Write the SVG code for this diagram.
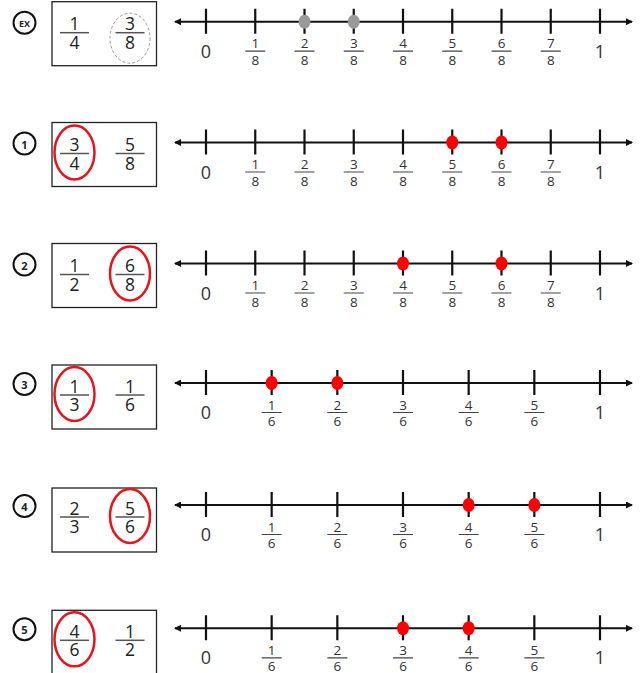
<svg xmlns="http://www.w3.org/2000/svg" width="644" height="673" viewBox="0 0 644 673">
<defs>
<marker id="arr" viewBox="0 0 7 7" refX="6" refY="3.5" markerWidth="7" markerHeight="7" markerUnits="userSpaceOnUse" orient="auto-start-reverse">
<path d="M0,0 L7,3.5 L0,7 z" fill="#111"/>
</marker>
</defs>
<style>
text{font-family:"Open Sans","Liberation Sans",sans-serif;fill:#222;text-anchor:middle}
.badge{fill:none;stroke:#111;stroke-width:2}
.bt{font-weight:bold;font-size:11px;dominant-baseline:central}
.box{fill:#fff;stroke:#222;stroke-width:1.3}
.bf{font-size:17.5px}
.bbar{stroke:#555;stroke-width:1.5}
.ring{fill:none;stroke:#e8141c;stroke-width:2.5}
.dash{fill:none;stroke:#999;stroke-width:1;stroke-dasharray:3 2}
.nl{stroke:#111;stroke-width:2;fill:none}
.tick{stroke:#111;stroke-width:2.2}
.big{font-size:18px;fill:#333}
.sf{font-size:13.5px;fill:#333}
.sbar{stroke:#444;stroke-width:1.2}
.gdot{fill:#999}
.rdot{fill:#f00}
</style>

<!-- EX -->
<g id="row-ex" transform="translate(0,21.7)">
<g id="badge-ex"><circle class="badge" cx="24.5" cy="1" r="11"/><text class="bt" x="24.5" y="1.5" style="font-size:9px">EX</text></g>
<g id="box-ex">
<rect class="box" x="52" y="-20" width="104.5" height="64"/>
<text class="bf" x="74.5" y="8.5">1</text><line class="bbar" x1="60" y1="11" x2="89" y2="11"/><text class="bf" x="74.5" y="27">4</text>
<ellipse class="dash" cx="130" cy="16.5" rx="20" ry="25"/>
<text class="bf" x="130" y="8.5">3</text><line class="bbar" x1="115.5" y1="11" x2="144.5" y2="11"/><text class="bf" x="130" y="27">8</text>
</g>
<g id="line-ex">
<path class="nl" d="M175,0 H632" marker-start="url(#arr)" marker-end="url(#arr)"/>
<path class="tick" d="M206,-13V12M255.25,-13V12M304.5,-13V12M353.75,-13V12M403,-13V12M452.25,-13V12M501.5,-13V12M550.75,-13V12M600,-13V12"/>
<ellipse class="gdot" cx="304.5" cy="0" rx="6" ry="7"/><ellipse class="gdot" cx="353.75" cy="0" rx="6" ry="7"/>
<text class="big" x="206" y="36">0</text><text class="big" x="600" y="36">1</text>
<path class="sbar" d="M245.25,29.5h20M294.5,29.5h20M343.75,29.5h20M393,29.5h20M442.25,29.5h20M491.5,29.5h20M540.75,29.5h20"/>
<text class="sf" x="255.25" y="26.5">1</text><text class="sf" x="255.25" y="43">8</text>
<text class="sf" x="304.5" y="26.5">2</text><text class="sf" x="304.5" y="43">8</text>
<text class="sf" x="353.75" y="26.5">3</text><text class="sf" x="353.75" y="43">8</text>
<text class="sf" x="403" y="26.5">4</text><text class="sf" x="403" y="43">8</text>
<text class="sf" x="452.25" y="26.5">5</text><text class="sf" x="452.25" y="43">8</text>
<text class="sf" x="501.5" y="26.5">6</text><text class="sf" x="501.5" y="43">8</text>
<text class="sf" x="550.75" y="26.5">7</text><text class="sf" x="550.75" y="43">8</text>
</g>
</g>

<!-- 1 -->
<g id="row-1" transform="translate(0,142.5)">
<g id="badge-1"><circle class="badge" cx="24.5" cy="1" r="11"/><text class="bt" x="24.5" y="1.5">1</text></g>
<g id="box-1">
<rect class="box" x="52" y="-20" width="104.5" height="64"/>
<ellipse class="ring" cx="74.5" cy="10" rx="20" ry="27"/>
<text class="bf" x="74.5" y="8.5">3</text><line class="bbar" x1="60" y1="11" x2="89" y2="11"/><text class="bf" x="74.5" y="27">4</text>
<text class="bf" x="130" y="8.5">5</text><line class="bbar" x1="115.5" y1="11" x2="144.5" y2="11"/><text class="bf" x="130" y="27">8</text>
</g>
<g id="line-1">
<path class="nl" d="M175,0 H632" marker-start="url(#arr)" marker-end="url(#arr)"/>
<path class="tick" d="M206,-13V12M255.25,-13V12M304.5,-13V12M353.75,-13V12M403,-13V12M452.25,-13V12M501.5,-13V12M550.75,-13V12M600,-13V12"/>
<ellipse class="rdot" cx="452.25" cy="0" rx="6" ry="7"/><ellipse class="rdot" cx="501.5" cy="0" rx="6" ry="7"/>
<text class="big" x="206" y="36">0</text><text class="big" x="600" y="36">1</text>
<path class="sbar" d="M245.25,29.5h20M294.5,29.5h20M343.75,29.5h20M393,29.5h20M442.25,29.5h20M491.5,29.5h20M540.75,29.5h20"/>
<text class="sf" x="255.25" y="26.5">1</text><text class="sf" x="255.25" y="43">8</text>
<text class="sf" x="304.5" y="26.5">2</text><text class="sf" x="304.5" y="43">8</text>
<text class="sf" x="353.75" y="26.5">3</text><text class="sf" x="353.75" y="43">8</text>
<text class="sf" x="403" y="26.5">4</text><text class="sf" x="403" y="43">8</text>
<text class="sf" x="452.25" y="26.5">5</text><text class="sf" x="452.25" y="43">8</text>
<text class="sf" x="501.5" y="26.5">6</text><text class="sf" x="501.5" y="43">8</text>
<text class="sf" x="550.75" y="26.5">7</text><text class="sf" x="550.75" y="43">8</text>
</g>
</g>

<!-- 2 -->
<g id="row-2" transform="translate(0,263.5)">
<g id="badge-2"><circle class="badge" cx="24.5" cy="1" r="11"/><text class="bt" x="24.5" y="1.5">2</text></g>
<g id="box-2">
<rect class="box" x="52" y="-20" width="104.5" height="64"/>
<text class="bf" x="74.5" y="8.5">1</text><line class="bbar" x1="60" y1="11" x2="89" y2="11"/><text class="bf" x="74.5" y="27">2</text>
<ellipse class="ring" cx="130" cy="10" rx="20" ry="27"/>
<text class="bf" x="130" y="8.5">6</text><line class="bbar" x1="115.5" y1="11" x2="144.5" y2="11"/><text class="bf" x="130" y="27">8</text>
</g>
<g id="line-2">
<path class="nl" d="M175,0 H632" marker-start="url(#arr)" marker-end="url(#arr)"/>
<path class="tick" d="M206,-13V12M255.25,-13V12M304.5,-13V12M353.75,-13V12M403,-13V12M452.25,-13V12M501.5,-13V12M550.75,-13V12M600,-13V12"/>
<ellipse class="rdot" cx="403" cy="0" rx="6" ry="7"/><ellipse class="rdot" cx="501.5" cy="0" rx="6" ry="7"/>
<text class="big" x="206" y="36">0</text><text class="big" x="600" y="36">1</text>
<path class="sbar" d="M245.25,29.5h20M294.5,29.5h20M343.75,29.5h20M393,29.5h20M442.25,29.5h20M491.5,29.5h20M540.75,29.5h20"/>
<text class="sf" x="255.25" y="26.5">1</text><text class="sf" x="255.25" y="43">8</text>
<text class="sf" x="304.5" y="26.5">2</text><text class="sf" x="304.5" y="43">8</text>
<text class="sf" x="353.75" y="26.5">3</text><text class="sf" x="353.75" y="43">8</text>
<text class="sf" x="403" y="26.5">4</text><text class="sf" x="403" y="43">8</text>
<text class="sf" x="452.25" y="26.5">5</text><text class="sf" x="452.25" y="43">8</text>
<text class="sf" x="501.5" y="26.5">6</text><text class="sf" x="501.5" y="43">8</text>
<text class="sf" x="550.75" y="26.5">7</text><text class="sf" x="550.75" y="43">8</text>
</g>
</g>

<!-- 3 -->
<g id="row-3" transform="translate(0,383)">
<g id="badge-3"><circle class="badge" cx="24.5" cy="1" r="11"/><text class="bt" x="24.5" y="1.5">3</text></g>
<g id="box-3">
<rect class="box" x="52" y="-18" width="104.5" height="64"/>
<ellipse class="ring" cx="74.5" cy="11" rx="20" ry="27"/>
<text class="bf" x="74.5" y="9.5">1</text><line class="bbar" x1="60" y1="12" x2="89" y2="12"/><text class="bf" x="74.5" y="28">3</text>
<text class="bf" x="130" y="9.5">1</text><line class="bbar" x1="115.5" y1="12" x2="144.5" y2="12"/><text class="bf" x="130" y="28">6</text>
</g>
<g id="line-3">
<path class="nl" d="M175,0 H632" marker-start="url(#arr)" marker-end="url(#arr)"/>
<path class="tick" d="M206,-13V12M271.67,-13V12M337.33,-13V12M403,-13V12M468.67,-13V12M534.33,-13V12M600,-13V12"/>
<ellipse class="rdot" cx="271.67" cy="0" rx="6" ry="7"/><ellipse class="rdot" cx="337.33" cy="0" rx="6" ry="7"/>
<text class="big" x="206" y="36">0</text><text class="big" x="600" y="36">1</text>
<path class="sbar" d="M261.67,29.5h20M327.33,29.5h20M393,29.5h20M458.67,29.5h20M524.33,29.5h20"/>
<text class="sf" x="271.67" y="26.5">1</text><text class="sf" x="271.67" y="43">6</text>
<text class="sf" x="337.33" y="26.5">2</text><text class="sf" x="337.33" y="43">6</text>
<text class="sf" x="403" y="26.5">3</text><text class="sf" x="403" y="43">6</text>
<text class="sf" x="468.67" y="26.5">4</text><text class="sf" x="468.67" y="43">6</text>
<text class="sf" x="534.33" y="26.5">5</text><text class="sf" x="534.33" y="43">6</text>
</g>
</g>

<!-- 4 -->
<g id="row-4" transform="translate(0,505)">
<g id="badge-4"><circle class="badge" cx="24.5" cy="1" r="11"/><text class="bt" x="24.5" y="1.5">4</text></g>
<g id="box-4">
<rect class="box" x="52" y="-17" width="104.5" height="64"/>
<text class="bf" x="74.5" y="9.5">2</text><line class="bbar" x1="60" y1="12" x2="89" y2="12"/><text class="bf" x="74.5" y="28">3</text>
<ellipse class="ring" cx="130" cy="11" rx="20" ry="27"/>
<text class="bf" x="130" y="9.5">5</text><line class="bbar" x1="115.5" y1="12" x2="144.5" y2="12"/><text class="bf" x="130" y="28">6</text>
</g>
<g id="line-4">
<path class="nl" d="M175,0 H632" marker-start="url(#arr)" marker-end="url(#arr)"/>
<path class="tick" d="M206,-13V12M271.67,-13V12M337.33,-13V12M403,-13V12M468.67,-13V12M534.33,-13V12M600,-13V12"/>
<ellipse class="rdot" cx="468.67" cy="0" rx="6" ry="7"/><ellipse class="rdot" cx="534.33" cy="0" rx="6" ry="7"/>
<text class="big" x="206" y="36">0</text><text class="big" x="600" y="36">1</text>
<path class="sbar" d="M261.67,29.5h20M327.33,29.5h20M393,29.5h20M458.67,29.5h20M524.33,29.5h20"/>
<text class="sf" x="271.67" y="26.5">1</text><text class="sf" x="271.67" y="43">6</text>
<text class="sf" x="337.33" y="26.5">2</text><text class="sf" x="337.33" y="43">6</text>
<text class="sf" x="403" y="26.5">3</text><text class="sf" x="403" y="43">6</text>
<text class="sf" x="468.67" y="26.5">4</text><text class="sf" x="468.67" y="43">6</text>
<text class="sf" x="534.33" y="26.5">5</text><text class="sf" x="534.33" y="43">6</text>
</g>
</g>

<!-- 5 -->
<g id="row-5" transform="translate(0,628.3)">
<g id="badge-5"><circle class="badge" cx="24.5" cy="1" r="11"/><text class="bt" x="24.5" y="1.5">5</text></g>
<g id="box-5">
<rect class="box" x="52" y="-18" width="104.5" height="64"/>
<ellipse class="ring" cx="74.5" cy="11" rx="20" ry="27"/>
<text class="bf" x="74.5" y="9.5">4</text><line class="bbar" x1="60" y1="12" x2="89" y2="12"/><text class="bf" x="74.5" y="28">6</text>
<text class="bf" x="130" y="9.5">1</text><line class="bbar" x1="115.5" y1="12" x2="144.5" y2="12"/><text class="bf" x="130" y="28">2</text>
</g>
<g id="line-5">
<path class="nl" d="M175,0 H632" marker-start="url(#arr)" marker-end="url(#arr)"/>
<path class="tick" d="M206,-13V12M271.67,-13V12M337.33,-13V12M403,-13V12M468.67,-13V12M534.33,-13V12M600,-13V12"/>
<ellipse class="rdot" cx="403" cy="0" rx="6" ry="7"/><ellipse class="rdot" cx="468.67" cy="0" rx="6" ry="7"/>
<text class="big" x="206" y="36">0</text><text class="big" x="600" y="36">1</text>
<path class="sbar" d="M261.67,29.5h20M327.33,29.5h20M393,29.5h20M458.67,29.5h20M524.33,29.5h20"/>
<text class="sf" x="271.67" y="26.5">1</text><text class="sf" x="271.67" y="43">6</text>
<text class="sf" x="337.33" y="26.5">2</text><text class="sf" x="337.33" y="43">6</text>
<text class="sf" x="403" y="26.5">3</text><text class="sf" x="403" y="43">6</text>
<text class="sf" x="468.67" y="26.5">4</text><text class="sf" x="468.67" y="43">6</text>
<text class="sf" x="534.33" y="26.5">5</text><text class="sf" x="534.33" y="43">6</text>
</g>
</g>
</svg>
